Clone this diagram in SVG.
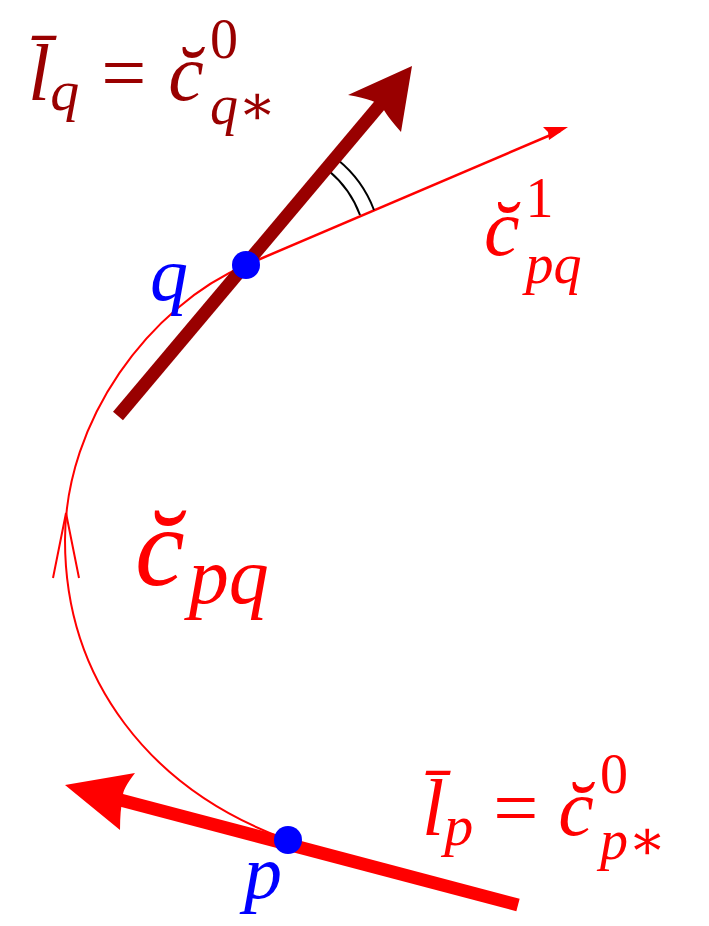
<svg xmlns="http://www.w3.org/2000/svg" width="709" height="926" viewBox="0 0 709 926">
<style>
text{font-family:"Liberation Serif","DejaVu Serif",serif;font-style:italic}
.r{fill:#ff0000}.d{fill:#990000}.b{fill:#0000ff}
</style>
<rect width="709" height="926" fill="#fff"/>
<g id="connectors">
<path d="M246,265 C150,306 65,420 65,540 C65,680 150,790 288,840" fill="none" stroke="#ff0000" stroke-width="2"/>
<path d="M53,578 L66,513 L79,578" fill="none" stroke="#ff0000" stroke-width="2"/>
<line x1="246" y1="265" x2="560" y2="131" stroke="#ff0000" stroke-width="2.5"/>
<path d="M568,127 L543,127 L548,132 L549,140 Z" fill="#ff0000"/>
<path d="M329,171 A105,105 0 0 1 360,215" fill="none" stroke="#000" stroke-width="2"/>
<path d="M338,160 A118,118 0 0 1 374,210" fill="none" stroke="#000" stroke-width="2"/>
<line x1="118" y1="416" x2="395" y2="87" stroke="#990000" stroke-width="13"/>
<path d="M412,66 L348,95 Q378,100 383,108 Q386,115 401,132 Z" fill="#990000"/>
<line x1="518" y1="905" x2="90" y2="792" stroke="#ff0000" stroke-width="13"/>
<path d="M65,785 L135,773 Q122,790 123,796 Q120,810 120,830 Z" fill="#ff0000"/>
</g>
<g id="q"><circle cx="246" cy="265" r="14" fill="#0000ff"/><text x="150" y="300" font-size="76" class="b">q</text></g>
<g id="p"><circle cx="288" cy="840" r="14" fill="#0000ff"/><text x="244" y="898" font-size="76" class="b">p</text></g>
<g id="lq"><text x="28" y="100" font-size="80" class="d">l̄<tspan font-size="58" dy="10">q</tspan><tspan dx="22" dy="-10" font-style="normal">=</tspan><tspan dx="22">c̆</tspan><tspan font-size="56" dx="6" dy="-42" font-style="normal">0</tspan><tspan font-size="56" dx="-28" dy="66">q∗</tspan></text></g>
<g id="lp"><text x="422" y="835" font-size="80" class="r">l̄<tspan font-size="58" dy="10">p</tspan><tspan dx="20" dy="-10" font-style="normal">=</tspan><tspan dx="20">c̆</tspan><tspan font-size="56" dx="6" dy="-42" font-style="normal">0</tspan><tspan font-size="56" dx="-28" dy="66">p∗</tspan></text></g>
<g id="c1"><text x="484" y="255" font-size="80" class="r">c̆<tspan font-size="56" dx="6" dy="-38" font-style="normal">1</tspan><tspan font-size="56" dx="-28" dy="66">pq</tspan></text></g>
<g id="cpq"><text x="135" y="585" font-size="112" class="r">c̆<tspan font-size="80" dx="4" dy="18">pq</tspan></text></g>
</svg>
